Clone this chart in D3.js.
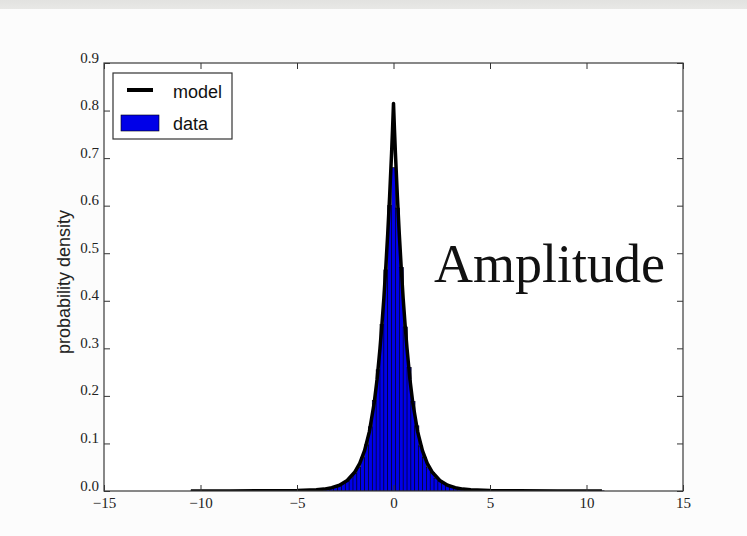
<!DOCTYPE html>
<html>
<head>
<meta charset="utf-8">
<script src="https://cdn.jsdelivr.net/npm/d3@7"></script>
<style>
  body { margin: 0; background: #fcfcfc; }
  svg { display: block; }
</style>
</head>
<body>
<div id="main"></div>
<script>
var width = 747,
    height = 536;

// plot frame in pixels (not "top": that name is taken by window.top)
var plotL = 104, plotR = 683, plotT = 63, plotB = 491;

// x / y ticks
var xTicks = [-15, -10, -5, 0, 5, 10, 15];
var yTicks = [0.0, 0.1, 0.2, 0.3, 0.4, 0.5, 0.6, 0.7, 0.8, 0.9];

// histogram: uniform bins of 0.2, first bin centred at -10.4
var binStart = -10.5,
    binWidth = 0.2;
var binHeights = [
  // left tail -10.4 .. -4.2
  0.0004,0.0003,0.0004,0.0005,0.0003,0.0004,0.0005,0.0004,0.0005,0.0006,
  0.0005,0.0006,0.0007,0.0006,0.0007,0.0008,0.0007,0.0008,0.0009,0.0008,
  0.0009,0.001,0.0009,0.001,0.0011,0.0012,0.0011,0.0012,0.0013,0.0014,
  0.0016,0.0018,
  // centre -4.0 .. 4.0
  0.003,0.0035,0.0045,0.0055,0.007,0.009,0.012,0.016,0.021,0.028,
  0.038,0.05,0.07,0.097,0.135,0.19,0.255,0.35,0.465,0.6,
  0.68,
  0.595,0.47,0.345,0.26,0.188,0.137,0.095,0.071,0.049,0.039,
  0.027,0.021,0.016,0.012,0.009,0.007,0.0055,0.0045,0.0035,0.003,
  // right tail 4.2 .. 10.8
  0.0019,0.0017,0.0015,0.0014,0.0012,0.0013,0.0011,0.0012,0.001,0.0011,
  0.0009,0.001,0.0009,0.0008,0.0009,0.0008,0.0007,0.0008,0.0007,0.0006,
  0.0007,0.0006,0.0005,0.0006,0.0005,0.0004,0.0005,0.0004,0.0005,0.0004,
  0.0003,0.0004,0.0003,0.0004
];

// model curve
var modelX = [-10.5, -8.5, -6.5, -5, -4, -3.6, -3.2, -2.8, -2.4, -2, -1.75, -1.5, -1.25, -1,
              -0.85, -0.7, -0.6, -0.5, -0.4, -0.3, -0.2, -0.1, -0.05, 0,
              0.05, 0.1, 0.2, 0.3, 0.4, 0.5, 0.6, 0.7, 0.85, 1, 1.25, 1.5, 1.75, 2,
              2.4, 2.8, 3.2, 3.6, 4, 5, 6.5, 8.5, 10.8];
var modelY = [0, 0.0001, 0.0004, 0.001, 0.0025, 0.004, 0.007, 0.012, 0.022, 0.04, 0.058, 0.085, 0.125, 0.185,
              0.235, 0.30, 0.35, 0.405, 0.47, 0.54, 0.62, 0.71, 0.76, 0.815,
              0.76, 0.71, 0.62, 0.54, 0.47, 0.405, 0.35, 0.30, 0.235, 0.185, 0.125, 0.085, 0.058, 0.04,
              0.022, 0.012, 0.007, 0.004, 0.0025, 0.001, 0.0004, 0.0001, 0];

var legendItems = ["model", "data"];


var svg = d3.select("div#main")
    .append("svg")
    .attr("width", width)
    .attr("height", height);

var defs = svg.append("defs");

// grey strip along the top of the slide
var grad = defs.append("linearGradient")
    .attr("id", "band")
    .attr("x1", 0).attr("y1", 0).attr("x2", 0).attr("y2", 1);
grad.append("stop").attr("offset", "0%").attr("stop-color", "#e2e2e0");
grad.append("stop").attr("offset", "100%").attr("stop-color", "#e8e8e6");

svg.append("rect")
    .attr("x", 0).attr("y", 0)
    .attr("width", width).attr("height", 9)
    .attr("fill", "url(#band)");

defs.append("clipPath")
    .attr("id", "plotclip")
    .append("rect")
    .attr("x", plotL).attr("y", plotT)
    .attr("width", plotR - plotL).attr("height", plotB - plotT);

var x = d3.scaleLinear().domain([-15, 15]).range([plotL, plotR]);
var y = d3.scaleLinear().domain([0, 0.9]).range([plotB, plotT]);

svg.append("rect")
    .attr("x", plotL).attr("y", plotT)
    .attr("width", plotR - plotL).attr("height", plotB - plotT)
    .attr("fill", "#fff");

var plot = svg.append("g").attr("clip-path", "url(#plotclip)");

// bars
plot.selectAll(".bar")
    .data(binHeights)
    .enter().append("rect")
    .attr("class", "bar")
    .attr("x", function(d, i) { return x(binStart + i * binWidth); })
    .attr("width", function(d, i) { return x(binStart + (i + 1) * binWidth) - x(binStart + i * binWidth) + 0.3; })
    .attr("y", function(d) { return y(d); })
    .attr("height", function(d) { return y(0) - y(d); })
    .attr("fill", "#0000e8")
    .attr("stroke", "#000")
    .attr("stroke-width", 0.6);

// model line
var line = d3.line()
    .x(function(d, i) { return x(modelX[i]); })
    .y(function(d) { return y(d); });

plot.append("path")
    .datum(modelY)
    .attr("d", line)
    .attr("fill", "none")
    .attr("stroke", "#000")
    .attr("stroke-width", 3.5)
    .attr("stroke-linejoin", "round");

// axes, ticks pointing inward on all four sides
var tickFont = "'Liberation Serif', 'DejaVu Serif', serif";

var xBottom = d3.axisBottom(x).tickValues(xTicks).tickSizeInner(-6).tickSizeOuter(0)
    .tickFormat(function(d) { return d < 0 ? "\u2212" + Math.abs(d) : d; });
var xTop = d3.axisTop(x).tickValues(xTicks).tickSizeInner(-6).tickSizeOuter(0).tickFormat("");
var yLeft = d3.axisLeft(y).tickValues(yTicks).tickSizeInner(-6).tickSizeOuter(0).tickFormat(d3.format(".1f"));
var yRight = d3.axisRight(y).tickValues(yTicks).tickSizeInner(-6).tickSizeOuter(0).tickFormat("");

function styleAxis(g) {
    g.select(".domain").remove();
    g.selectAll(".tick line").attr("stroke", "#333").attr("stroke-width", 1);
    g.selectAll(".tick text")
        .attr("fill", "#222")
        .style("font-family", tickFont)
        .style("font-size", "15px");
}

svg.append("g").attr("transform", `translate(0,${plotB})`).call(xBottom).call(styleAxis)
    .selectAll(".tick text").attr("y", 6).attr("dy", "0.71em");
svg.append("g").attr("transform", `translate(0,${plotT})`).call(xTop).call(styleAxis);
svg.append("g").attr("transform", `translate(${plotL},0)`).call(yLeft).call(styleAxis)
    .selectAll(".tick text").attr("x", -5).attr("dy", "-1px");
svg.append("g").attr("transform", `translate(${plotR},0)`).call(yRight).call(styleAxis);

// frame
svg.append("rect")
    .attr("x", plotL).attr("y", plotT)
    .attr("width", plotR - plotL).attr("height", plotB - plotT)
    .attr("fill", "none")
    .attr("stroke", "#3a3a3a")
    .attr("stroke-width", 1.2);

// y label
svg.append("text")
    .attr("transform", `translate(70,282) rotate(-90)`)
    .attr("text-anchor", "middle")
    .style("font-family", "'Liberation Sans', Arial, sans-serif")
    .style("font-size", "18px")
    .attr("fill", "#222")
    .text("probability density");

// legend
var legend = svg.append("g").attr("transform", "translate(113,73)");

legend.append("rect")
    .attr("width", 119).attr("height", 66)
    .attr("fill", "#fff")
    .attr("stroke", "#333")
    .attr("stroke-width", 1.2);

legend.append("line")
    .attr("x1", 14).attr("x2", 40)
    .attr("y1", 17).attr("y2", 17)
    .attr("stroke", "#000")
    .attr("stroke-width", 4);

legend.append("rect")
    .attr("x", 8).attr("y", 42)
    .attr("width", 38).attr("height", 16)
    .attr("fill", "#0000e8")
    .attr("stroke", "#000")
    .attr("stroke-width", 0.6);

legend.selectAll(".ltext")
    .data(legendItems)
    .enter().append("text")
    .attr("class", "ltext")
    .attr("x", 60)
    .attr("y", function(d, i) { return i == 0 ? 25 : 57; })
    .style("font-family", "'Liberation Sans', Arial, sans-serif")
    .style("font-size", "18px")
    .attr("fill", "#111")
    .text(function(d) { return d; });

// slide caption sitting over the plot
svg.append("text")
    .attr("x", 434)
    .attr("y", 282)
    .style("font-family", "'Liberation Serif', 'DejaVu Serif', serif")
    .style("font-size", "54px")
    .attr("fill", "#111")
    .text("Amplitude");
</script>
</body>
</html>
